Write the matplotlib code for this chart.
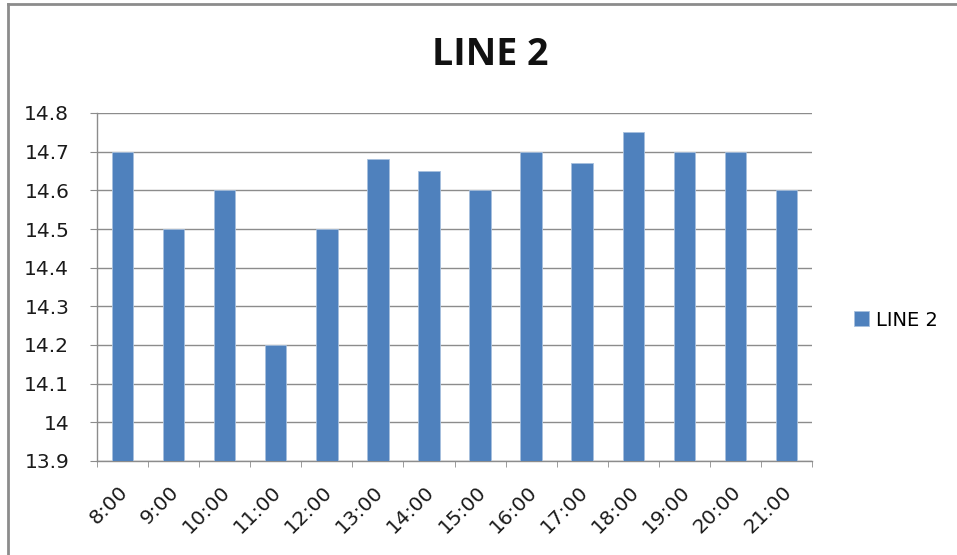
import matplotlib.pyplot as plt
import matplotlib.transforms as mtransforms
from matplotlib.lines import Line2D
from matplotlib.ticker import MultipleLocator, FuncFormatter

hours = ["8:00", "9:00", "10:00", "11:00", "12:00", "13:00", "14:00",
         "15:00", "16:00", "17:00", "18:00", "19:00", "20:00", "21:00"]
line2 = [14.7, 14.5, 14.6, 14.2, 14.5, 14.68, 14.65,
         14.6, 14.7, 14.67, 14.75, 14.7, 14.7, 14.6]

plt.rcParams['font.family'] = ['DejaVu Sans']

W, H = 957, 555
fig = plt.figure(figsize=(W / 100, H / 100), dpi=100)
ax = fig.add_axes([97 / W, 1 - 461 / H, (812 - 97) / W, (461 - 113) / H])

bar_color = "#4F81BD"
x = range(len(hours))
bars = ax.bar(x, line2, width=0.42, color=bar_color, edgecolor="#A7C0DE",
              linewidth=0.6, label="LINE 2", zorder=3)

ax.set_ylim(13.9, 14.8)
ax.set_xlim(-0.5, len(hours) - 0.5)
ax.yaxis.set_major_locator(MultipleLocator(0.1))
ax.yaxis.set_major_formatter(FuncFormatter(lambda v, p: f"{v:g}"))
ax.grid(axis="y", color="#8C8C8C", linewidth=1, zorder=0)

for s in ["top", "right"]:
    ax.spines[s].set_visible(False)
for s in ["left", "bottom"]:
    ax.spines[s].set_color("#8C8C8C")
    ax.spines[s].set_linewidth(1)

# Category labels at bar centres, tick marks at category boundaries
ax.set_xticks(list(x))
ax.set_xticklabels(hours, rotation=45, ha="right", rotation_mode="anchor",
                   fontsize=14.5, color="#1A1A1A")
ax.set_xticks([i - 0.5 for i in range(len(hours) + 1)], minor=True)
ax.tick_params(axis="x", which="major", length=0, pad=15)
ax.tick_params(axis="x", which="minor", length=4.5, color="#8C8C8C")
ax.tick_params(axis="y", length=5, color="#8C8C8C", labelsize=14.5,
               labelcolor="#1A1A1A", pad=15)

shift = mtransforms.ScaledTranslation(-4 / 100, 0, fig.dpi_scale_trans)
for lbl in ax.get_xticklabels():
    lbl.set_transform(lbl.get_transform() + shift)

fig.text(490 / W, 1 - 55 / H, "LINE 2", ha="center", va="center",
         fontsize=27, fontweight="bold", color="#111111",
         family=["Open Sans", "DejaVu Sans"])

fig.legend(handles=[bars], labels=["LINE 2"], loc="center left",
           bbox_to_anchor=(836 / W, 1 - 320 / H), frameon=False,
           fontsize=14, handlelength=0.8, handleheight=0.8,
           handletextpad=0.35)

# Chart-area frame: only its top and left edges fall inside the image
frame = dict(transform=fig.transFigure, color="#8C8C8C", linewidth=2)
fig.add_artist(Line2D([8 / W, 8 / W], [0, 1 - 4 / H], **frame))
fig.add_artist(Line2D([8 / W, 1], [1 - 4 / H, 1 - 4 / H], **frame))

fig.savefig("out.png", dpi=100)
